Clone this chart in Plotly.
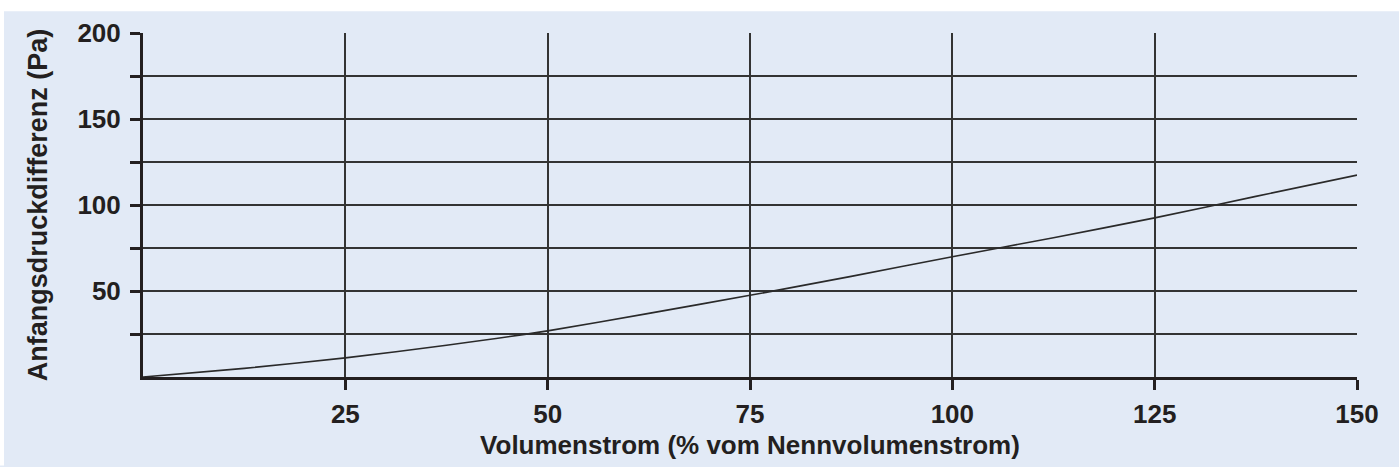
import plotly.graph_objects as go

# Data
volumenstrom = [0, 12.5, 25, 37.5, 50, 62.5, 75, 87.5, 100, 112.5, 125, 137.5, 150]
druckdifferenz = [0, 5.0, 11.1, 18.5, 26.8, 37.0, 47.5, 58.5, 69.9, 81.0, 92.5, 105.0, 117.4]

x_ticks = [25, 50, 75, 100, 125, 150]
x_ticktext = ["25", "50", "75", "100", "125", "150"]
y_ticks = [25, 50, 75, 100, 125, 150, 175, 200]
y_ticktext = ["", "50", "", "100", "", "150", "", "200"]

BG = "#e2eaf6"
INK = "#231f20"
FONT = "Liberation Sans"

fig = go.Figure()
fig.add_trace(go.Scatter(
    x=volumenstrom, y=druckdifferenz, mode="lines",
    line=dict(color="#2a2a2a", width=1.6, shape="spline", smoothing=0.6),
    hoverinfo="skip", showlegend=False,
))

W, H = 1399, 467
ml, mr, mt, mb = 143, 42, 33, 86
pw, ph = W - ml - mr, H - mt - mb

# white strips at top and left of the light-blue panel
top_y = (H - mb) / ph
fig.add_shape(type="rect", xref="paper", yref="paper",
              x0=-ml / pw - 0.01, x1=(W - ml) / pw + 0.01,
              y0=(H - mb - 11) / ph, y1=top_y + 0.01,
              fillcolor="white", line=dict(width=0), layer="below")
fig.add_shape(type="rect", xref="paper", yref="paper",
              x0=-ml / pw - 0.01, x1=(4 - ml) / pw,
              y0=-mb / ph - 0.01, y1=top_y + 0.01,
              fillcolor="white", line=dict(width=0), layer="below")

fig.update_layout(
    width=W, height=H,
    margin=dict(l=ml, r=mr, t=mt, b=mb, pad=0),
    paper_bgcolor=BG, plot_bgcolor=BG,
    font=dict(family=FONT, color=INK),
)
fig.update_xaxes(
    range=[0, 150], tickmode="array", tickvals=x_ticks, ticktext=x_ticktext,
    showgrid=True, gridcolor="#333333", gridwidth=1.6,
    showline=True, linecolor=INK, linewidth=3, mirror=False,
    ticks="outside", ticklen=10, tickwidth=3, tickcolor=INK,
    ticklabelstandoff=2,
    tickfont=dict(family=FONT, size=26, color=INK, weight="bold"),
    zeroline=False,
    title=dict(text="<b>Volumenstrom (% vom Nennvolumenstrom)</b>",
               font=dict(family=FONT, size=26, color=INK), standoff=8),
)
fig.update_yaxes(
    range=[0, 200], tickmode="array", tickvals=y_ticks, ticktext=y_ticktext,
    showgrid=True, gridcolor="#333333", gridwidth=1.6,
    showline=True, linecolor=INK, linewidth=3, mirror=False,
    ticks="outside", ticklen=10, tickwidth=3, tickcolor=INK,
    ticklabelstandoff=4,
    tickfont=dict(family=FONT, size=26, color=INK, weight="bold"),
    zeroline=False,
    title=dict(text="<b>Anfangsdruckdifferenz (Pa)</b>",
               font=dict(family=FONT, size=27, color=INK), standoff=22),
)

fig.write_html(
    "out.html", config={"displayModeBar": False},
    post_script=("document.body.style.margin='0';document.body.style.padding='0';"
                 "document.body.style.background='" + BG + "';"
                 "document.documentElement.style.background='" + BG + "';"
                 "document.body.style.overflow='hidden';"),
)
